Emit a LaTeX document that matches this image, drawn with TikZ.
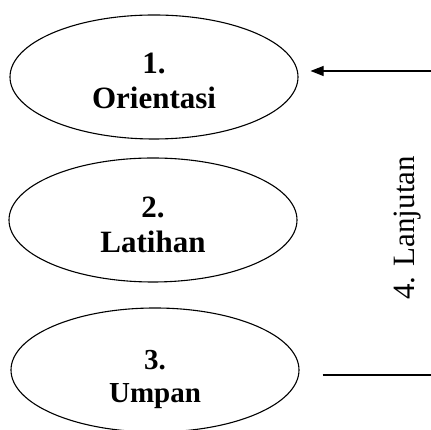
\documentclass[tikz,border=0pt]{standalone}
\usepackage{fontspec}
\setmainfont{Liberation Serif}
\usetikzlibrary{shapes.geometric,arrows.meta}

\tikzset{
	stage/.style={draw,line width=1.1pt,ellipse,inner sep=0pt,minimum width=288pt,minimum height=124pt},
	stagetext/.style={align=center,font=\fontsize{31}{35}\selectfont\bfseries},
}

\begin{document}
\begin{tikzpicture}[x=1pt,y=1pt]
	\useasboundingbox (0,0) rectangle (431,430);
	\clip (0,0) rectangle (431,430);

	%stages
	\node[stage,label={[stagetext,yshift=-4pt]center:1.\\Orientasi}](orientasi) at (154,353) {};
	\node[stage,label={[stagetext,yshift=-5pt]center:2.\\Latihan}](latihan) at (153,210) {};
	\node[stage,label={[stagetext,yshift=-9pt,font=\fontsize{29}{33}\selectfont\bfseries]center:3.\\Umpan}](umpan) at (155,60) {};

	%loop back
	\coordinate (in) at (431,359);
	\coordinate (out) at (431,55);
	\draw[line width=1.1pt,-{Triangle[length=13pt,width=10pt]}] (in) -- ([xshift=12pt]orientasi.east |- in);
	\draw[line width=1.1pt] ([xshift=23pt]umpan.east |- out) -- (out);

	%label
	\node[rotate=90,font=\fontsize{31}{35}\selectfont](lanjutan) at (408,202) {4. Lanjutan};
\end{tikzpicture}
\end{document}
